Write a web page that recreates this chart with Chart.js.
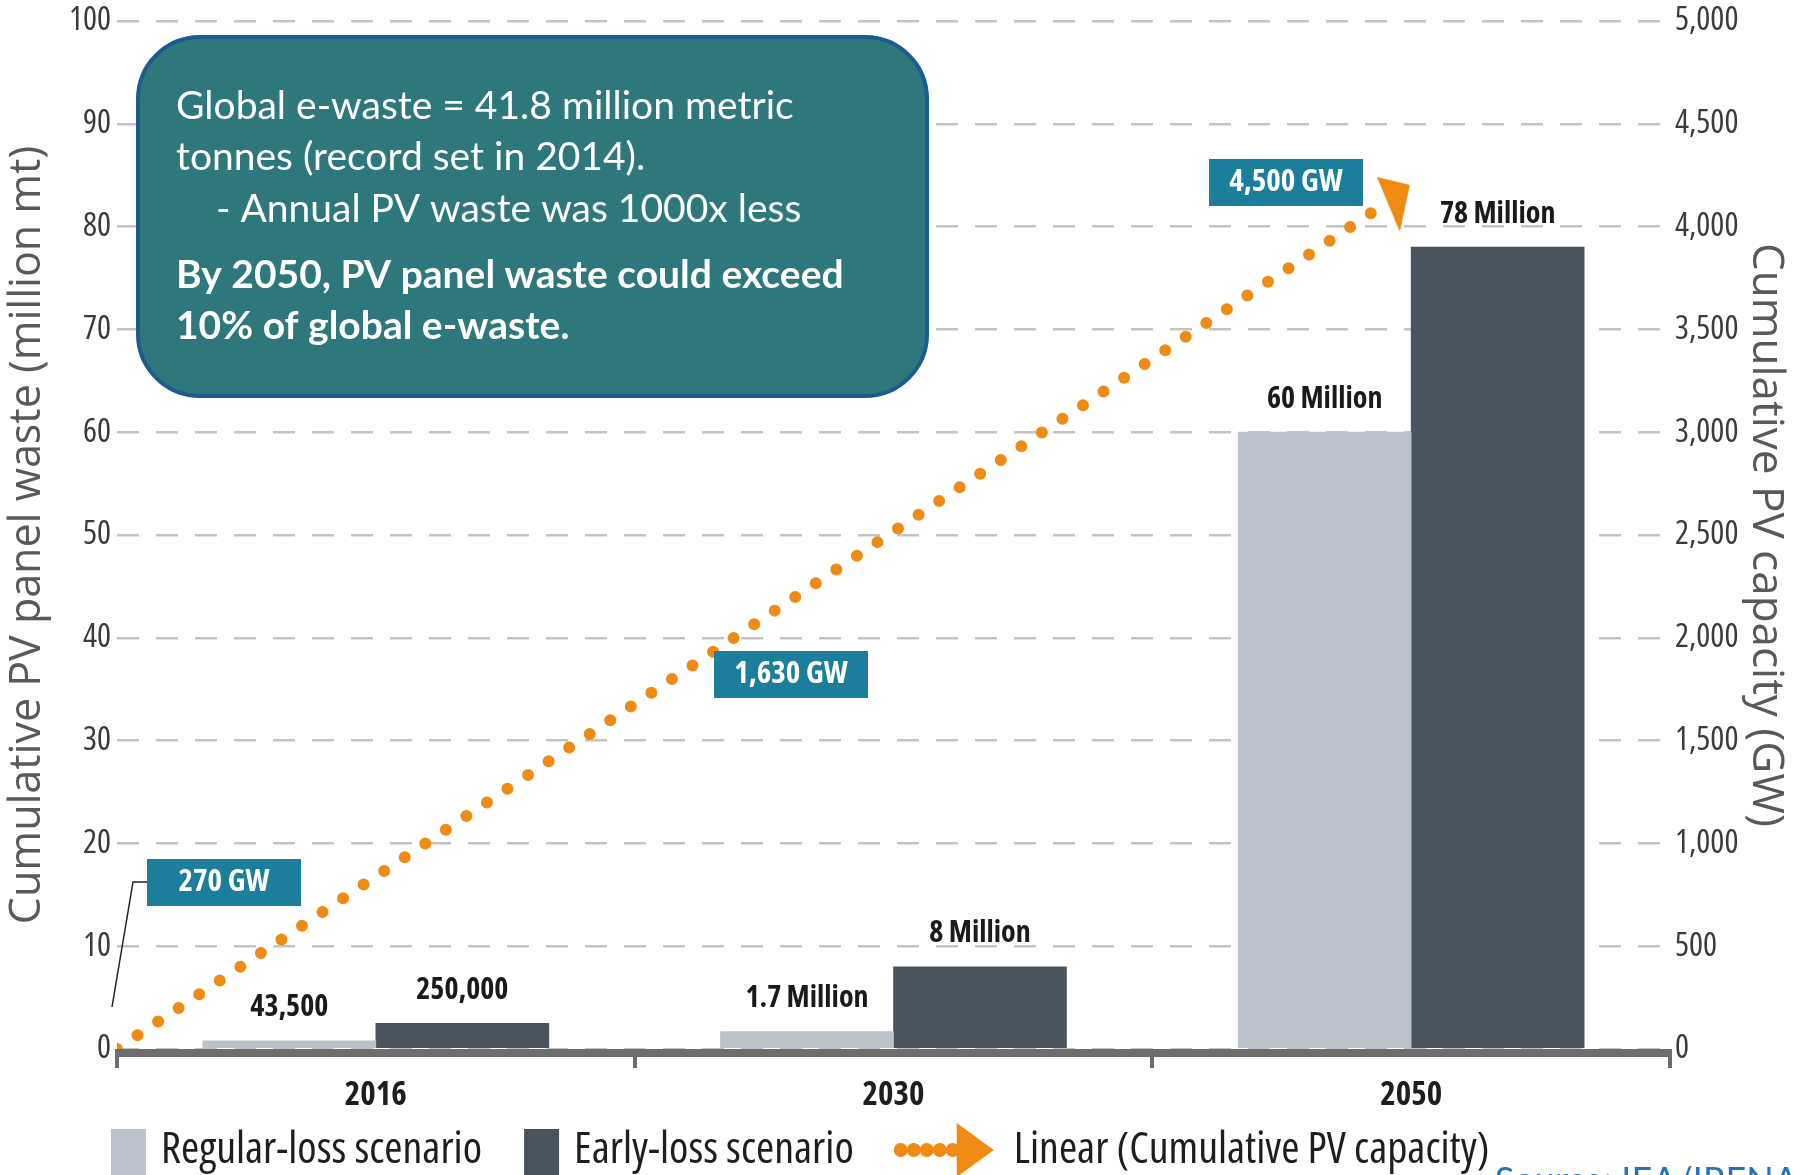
<!DOCTYPE html>
<html>
<head>
<meta charset="utf-8">
<script src="https://cdn.jsdelivr.net/npm/chart.js@4.4.1/dist/chart.umd.min.js"></script>
<style>
html, body { margin: 0; padding: 0; background: #fff; overflow: hidden; }
canvas { display: block; }
</style>
</head>
<body>
<canvas id="pvChart" width="1796" height="1175"></canvas>
<script>
const years = ['2016', '2030', '2050'];
const regularLoss = [0.8, 1.7, 60];
const earlyLoss = [2.5, 8, 78];
const regularLabels = ['43,500', '1.7 Million', '60 Million'];
const earlyLabels = ['250,000', '8 Million', '78 Million'];
// linear trend of cumulative PV capacity (GW); x in category units
const trendX = [-0.5, 1.955];
const trendGW = [0, 4120];
const capacityLabels = ['270 GW', '1,630 GW', '4,500 GW'];
const noteLines = [
  'Global e-waste = 41.8 million metric',
  'tonnes (record set in 2014).',
  '    - Annual PV waste was 1000x less',
  'By 2050, PV panel waste could exceed',
  '10% of global e-waste.'
];

// Open Sans is a variable font here, so "condensed" gives a narrow face
const FAMILY = '"Open Sans", sans-serif';
const cond = (size, bold) => (bold ? 'bold ' : '') + 'condensed ' + size + 'px ' + FAMILY;
const ORANGE = '#ef8a12';
const LIGHT = '#bcc2cb';
const DARK = '#4a545e';
const TEAL = '#1b7f9b';

Chart.defaults.font.family = FAMILY;

const arrowHead = (() => {
  const c = document.createElement('canvas');
  c.width = 80; c.height = 80;
  const g = c.getContext('2d');
  g.fillStyle = ORANGE;
  g.beginPath(); g.moveTo(29, 15); g.lineTo(62, 23); g.lineTo(52, 70); g.closePath(); g.fill();
  return c;
})();

const axisLine = {
  id: 'axisLine',
  afterDatasetsDraw(chart) {
    const { ctx, chartArea: a } = chart;
    ctx.save();
    ctx.fillStyle = '#6d6d6d';
    ctx.fillRect(a.left - 1, a.bottom, a.right - a.left + 3, 8);
    ctx.restore();
  }
};

const barValues = {
  id: 'barValues',
  afterDatasetsDraw(chart) {
    const { ctx } = chart;
    ctx.save();
    ctx.font = cond(30, true);
    ctx.fillStyle = '#1a1a1a';
    ctx.textAlign = 'center';
    ctx.textBaseline = 'middle';
    [regularLabels, earlyLabels].forEach((labels, di) => {
      chart.getDatasetMeta(di).data.forEach((bar, i) => {
        ctx.fillText(labels[i], bar.x, bar.y - 33);
      });
    });
    ctx.restore();
  }
};

const notes = {
  id: 'notes',
  afterDatasetsDraw(chart) {
    const { ctx } = chart;
    ctx.save();
    ctx.beginPath();
    ctx.roundRect(138, 37, 789, 359, 62);
    ctx.fillStyle = '#2e787c';
    ctx.fill();
    ctx.lineWidth = 4;
    ctx.strokeStyle = '#1d5a8e';
    ctx.stroke();
    ctx.fillStyle = '#fff';
    ctx.textBaseline = 'alphabetic';
    const base = [119, 170, 222, 288, 339];
    noteLines.forEach((t, i) => {
      ctx.font = (i >= 3 ? 'bold ' : '') + '39px Lato, sans-serif';
      ctx.fillText(t, 176, base[i]);
    });

    const tags = [[147, 859], [714, 651], [1209, 159]];
    ctx.font = cond(31, true);
    ctx.textAlign = 'center';
    ctx.textBaseline = 'middle';
    capacityLabels.forEach((t, i) => {
      const [x, y] = tags[i];
      ctx.fillStyle = TEAL;
      ctx.fillRect(x, y, 154, 47);
      ctx.fillStyle = '#fff';
      ctx.fillText(t, x + 77, y + 23);
    });
    ctx.strokeStyle = '#222';
    ctx.lineWidth = 1.5;
    ctx.beginPath();
    ctx.moveTo(147, 882); ctx.lineTo(133, 882); ctx.lineTo(112, 1007);
    ctx.stroke();
    ctx.restore();
  }
};

const legendRow = {
  id: 'legendRow',
  afterDraw(chart) {
    const { ctx } = chart;
    const ds = chart.data.datasets;
    const cy = 1150;
    ctx.save();
    ctx.font = cond(44, false);
    ctx.textBaseline = 'middle';
    let x = 111;
    [0, 1].forEach(i => {
      ctx.fillStyle = ds[i].backgroundColor;
      ctx.fillRect(x, 1129, 35, 50);
      x += 35 + 15;
      ctx.fillStyle = '#1e1e1e';
      ctx.fillText(ds[i].label, x, cy);
      x += ctx.measureText(ds[i].label).width + 42;
    });
    x -= 2;
    ctx.fillStyle = ORANGE;
    for (let k = 0; k < 5; k++) {
      ctx.beginPath();
      ctx.ellipse(x + 7 + k * 13, cy, 7, 7, 0, 0, Math.PI * 2);
      ctx.fill();
    }
    ctx.beginPath();
    ctx.moveTo(x + 63, 1123); ctx.lineTo(x + 100, cy); ctx.lineTo(x + 63, 1177);
    ctx.closePath(); ctx.fill();
    x += 120;
    ctx.fillStyle = '#1e1e1e';
    ctx.fillText(ds[2].label, x, cy);

    ctx.font = '36px Lato, sans-serif';
    ctx.fillStyle = '#2472b8';
    ctx.textBaseline = 'alphabetic';
    ctx.fillText('Source: IEA/IRENA, 2016', 1495, 1193);
    ctx.restore();
  }
};

const noPad = s => { s.paddingTop = 0; s.paddingBottom = 0; };

new Chart(document.getElementById('pvChart'), {
  data: {
    datasets: [
      {
        type: 'bar', label: 'Regular-loss scenario',
        data: regularLoss.map((v, i) => ({ x: i, y: v })),
        backgroundColor: LIGHT, barThickness: 173, order: 2
      },
      {
        type: 'bar', label: 'Early-loss scenario',
        data: earlyLoss.map((v, i) => ({ x: i, y: v })),
        backgroundColor: DARK, barThickness: 173, order: 2
      },
      {
        type: 'line', label: 'Linear (Cumulative PV capacity)',
        data: trendX.map((x, i) => ({ x: x, y: trendGW[i] })),
        yAxisID: 'y1', order: 1,
        borderColor: ORANGE, borderWidth: 12, borderDash: [0, 24.7],
        borderCapStyle: 'round', tension: 0, fill: false,
        pointRadius: [0, 1], pointBorderWidth: 0, pointHoverRadius: 0,
        pointStyle: arrowHead
      }
    ]
  },
  options: {
    responsive: false,
    animation: false,
    events: [],
    layout: { padding: { left: 2, right: 4, top: 21, bottom: 0 } },
    plugins: { legend: { display: false }, tooltip: { enabled: false } },
    scales: {
      x: {
        type: 'linear', position: 'bottom', min: -0.5, max: 2.5, offset: false,
        border: { display: false },
        grid: {
          offset: false, drawOnChartArea: false, drawTicks: true, tickLength: 19, lineWidth: 4,
          color: c => Number.isInteger(c.tick && c.tick.value) ? 'rgba(0,0,0,0)' : '#6d6d6d'
        },
        ticks: {
          stepSize: 0.5, autoSkip: false, maxRotation: 0,
          callback: v => Number.isInteger(v) ? years[v] : '',
          font: { size: 33, weight: 'bold condensed' }, color: '#1e1e1e', padding: 8
        },
        afterFit(s) { s.height = 126; s.paddingLeft = 0; s.paddingRight = 0; }
      },
      y: {
        position: 'left', min: 0, max: 100,
        border: { display: false, dash: [22, 17] },
        grid: { color: '#c4c4c4', lineWidth: 2.5, drawTicks: false },
        ticks: { stepSize: 10, font: { size: 33, weight: 'condensed' }, color: '#3b3b3b', padding: 6 },
        title: {
          display: true, text: 'Cumulative PV panel waste (million mt)',
          font: { size: 43 }, color: '#595959',
          padding: { top: 0, bottom: 0 }
        },
        afterFit(s) { s.width = 115; noPad(s); }
      },
      y1: {
        position: 'right', min: 0, max: 5000,
        border: { display: false },
        grid: { drawOnChartArea: false, drawTicks: false },
        ticks: { stepSize: 500, font: { size: 33, weight: 'condensed' }, color: '#3b3b3b', padding: 5 },
        title: {
          display: true, text: 'Cumulative PV capacity (GW)',
          font: { size: 44 }, color: '#595959',
          padding: { top: 0, bottom: 0 }
        },
        afterFit(s) { s.width = 122; noPad(s); }
      }
    }
  },
  plugins: [axisLine, barValues, notes, legendRow]
});
</script>
</body>
</html>
